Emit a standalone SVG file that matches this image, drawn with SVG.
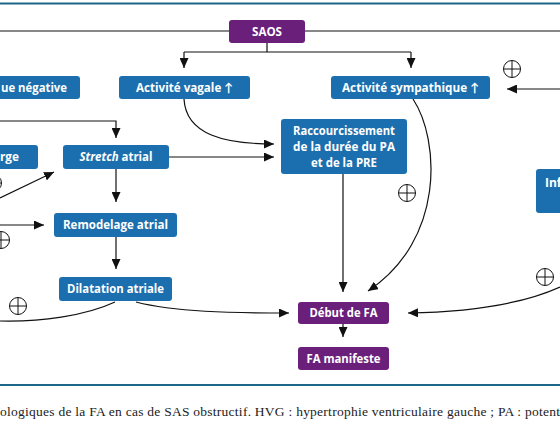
<svg xmlns="http://www.w3.org/2000/svg" xmlns:xlink="http://www.w3.org/1999/xlink" width="560" height="439" viewBox="0 0 560 439">
<style>
.blue{fill:#1c6fae}
.purple{fill:#6a1f7b}
.lbl{font-family:"Open Sans",Lato,"Liberation Sans",sans-serif;font-weight:bold;font-size:12px;fill:#ffffff;text-anchor:middle}
.cn{fill:none;stroke:#111111;stroke-width:1.2}
.rule{stroke:#1d6688;stroke-width:2.2}
.cap{font-family:"Liberation Serif","DejaVu Serif",serif;font-size:13.5px;fill:#222222}
.pl{fill:#ffffff;stroke:#111111;stroke-width:1}
</style>
<defs>
<marker id="ah" markerUnits="userSpaceOnUse" markerWidth="10" markerHeight="9" refX="10" refY="4.5" orient="auto">
<path d="M0,0 L10,4.5 L0,9 z" fill="#111111"/>
</marker>
<g id="plus" class="pl">
<circle cx="0" cy="0" r="8.5"/>
<path d="M-8.5,0 H8.5 M0,-8.5 V8.5"/>
</g>
</defs>
<rect width="560" height="439" fill="#ffffff"/>
<line class="rule" x1="0" y1="3.5" x2="560" y2="3.5"/>
<line class="rule" x1="0" y1="385" x2="560" y2="385"/>

<g id="connectors">
<path class="cn" d="M0,31 H229"/>
<path class="cn" d="M305,31 H560"/>
<path class="cn" d="M267,43 V52"/>
<path class="cn" d="M184,52 H411"/>
<path class="cn" d="M184,52 V68" marker-end="url(#ah)"/>
<path class="cn" d="M411,52 V68" marker-end="url(#ah)"/>
<path class="cn" d="M560,89 H507" marker-end="url(#ah)"/>
<path class="cn" d="M0,121 H116 V138" marker-end="url(#ah)"/>
<path class="cn" d="M0,198 L54,172" marker-end="url(#ah)"/>
<path class="cn" d="M169,157 H274" marker-end="url(#ah)"/>
<path class="cn" d="M184,99 C186,135 225,144 274,144" marker-end="url(#ah)"/>
<path class="cn" d="M116,169 V202" marker-end="url(#ah)"/>
<path class="cn" d="M0,225 H44" marker-end="url(#ah)"/>
<path class="cn" d="M116,237 V269" marker-end="url(#ah)"/>
<path class="cn" d="M115,302 C85,316 40,322 0,321"/>
<path class="cn" d="M136,302 C175,312 230,313 289,313" marker-end="url(#ah)"/>
<path class="cn" d="M343,174 V292" marker-end="url(#ah)"/>
<path class="cn" d="M413,99 C440,140 445,240 368,291" marker-end="url(#ah)"/>
<path class="cn" d="M560,287 C520,305 470,312 408,313" marker-end="url(#ah)"/>
<path class="cn" d="M343,324 V337" marker-end="url(#ah)"/>
</g>

<g id="signs">
<use xlink:href="#plus" x="512" y="69"/>
<use xlink:href="#plus" x="407" y="193"/>
<use xlink:href="#plus" x="545" y="277"/>
<use xlink:href="#plus" x="18" y="306"/>
<use xlink:href="#plus" x="-7" y="183"/>
<use xlink:href="#plus" x="1" y="240"/>
</g>

<g id="n-saos"><rect class="purple" x="229" y="20" width="76" height="23" rx="3"/><text class="lbl" x="267" y="36" textLength="30" lengthAdjust="spacingAndGlyphs">SAOS</text></g>
<g id="n-negative"><rect class="blue" x="-20" y="76" width="100" height="23" rx="3"/><text class="lbl" x="1" y="92" style="text-anchor:start" textLength="66" lengthAdjust="spacingAndGlyphs">ue négative</text></g>
<g id="n-vagale"><rect class="blue" x="119" y="76" width="131" height="23" rx="3"/><text class="lbl" x="184.5" y="92" textLength="97" lengthAdjust="spacingAndGlyphs">Activité vagale ↑</text></g>
<g id="n-sympathique"><rect class="blue" x="331" y="76" width="159" height="23" rx="3"/><text class="lbl" x="410.5" y="92" textLength="137" lengthAdjust="spacingAndGlyphs">Activité sympathique ↑</text></g>
<g id="n-surcharge"><rect class="blue" x="-30" y="145" width="68" height="24" rx="3"/><text class="lbl" x="0" y="161" style="text-anchor:start" textLength="19" lengthAdjust="spacingAndGlyphs">rge</text></g>
<g id="n-stretch"><rect class="blue" x="63" y="145" width="106" height="24" rx="3"/><text class="lbl" x="116" y="161" textLength="73" lengthAdjust="spacingAndGlyphs"><tspan font-style="italic">Stretch</tspan> atrial</text></g>
<g id="n-raccourcissement"><rect class="blue" x="281" y="119" width="126" height="55" rx="3"/>
<text class="lbl" x="344" y="135" textLength="102" lengthAdjust="spacingAndGlyphs">Raccourcissement</text>
<text class="lbl" x="344" y="151" textLength="102" lengthAdjust="spacingAndGlyphs">de la durée du  PA</text>
<text class="lbl" x="344" y="167" textLength="66" lengthAdjust="spacingAndGlyphs">et de la PRE</text></g>
<g id="n-remodelage"><rect class="blue" x="54" y="213" width="123" height="24" rx="3"/><text class="lbl" x="115.5" y="229" textLength="105" lengthAdjust="spacingAndGlyphs">Remodelage atrial</text></g>
<g id="n-dilatation"><rect class="blue" x="59" y="277" width="113" height="24" rx="3"/><text class="lbl" x="115.5" y="293" textLength="97" lengthAdjust="spacingAndGlyphs">Dilatation atriale</text></g>
<g id="n-debut"><rect class="purple" x="298" y="302" width="91" height="22" rx="3"/><text class="lbl" x="343.5" y="317" textLength="68" lengthAdjust="spacingAndGlyphs">Début de FA</text></g>
<g id="n-manifeste"><rect class="purple" x="298" y="347" width="91" height="23" rx="3"/><text class="lbl" x="343.5" y="362.5" textLength="74" lengthAdjust="spacingAndGlyphs">FA manifeste</text></g>
<g id="n-inf"><rect class="blue" x="536" y="169" width="40" height="44" rx="3"/><text class="lbl" x="545" y="187" style="text-anchor:start">Inf</text></g>

<text class="cap" x="0" y="416" textLength="560" lengthAdjust="spacing">ologiques de la FA en cas de SAS obstructif. HVG : hypertrophie ventriculaire gauche ; PA : potent</text>
</svg>
